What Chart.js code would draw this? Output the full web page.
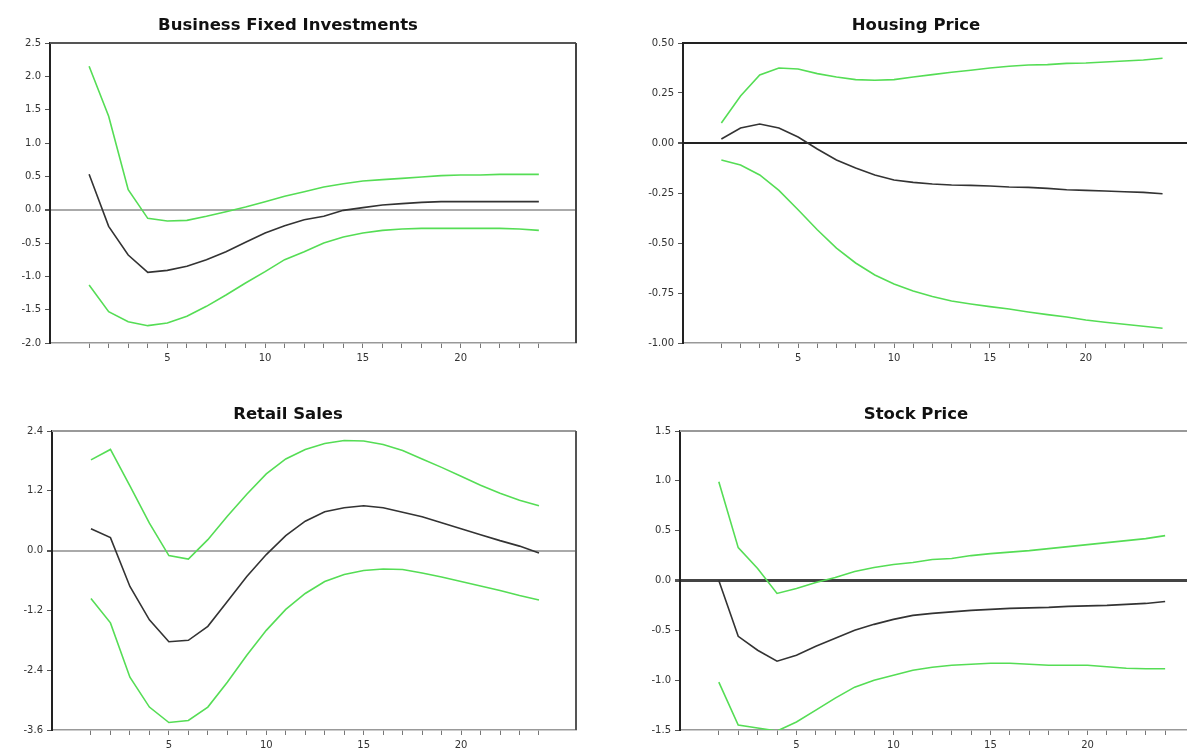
<!DOCTYPE html>
<html>
<head>
<meta charset="utf-8">
<script src="https://cdn.jsdelivr.net/npm/chart.js@4/dist/chart.umd.min.js"></script>
<style>
    html, body { margin: 0; padding: 0; background: #fff; overflow: hidden; width: 1187px; height: 751px; }
    .panel { position: absolute; }
</style>
</head>
<body>
<div class="panel" style="left:0;top:0"><canvas id="c-bfi" width="590" height="370"></canvas></div>
<div class="panel" style="left:633px;top:0"><canvas id="c-house" width="566" height="370"></canvas></div>
<div class="panel" style="left:0;top:385px"><canvas id="c-retail" width="590" height="372"></canvas></div>
<div class="panel" style="left:630px;top:385px"><canvas id="c-stock" width="572" height="372"></canvas></div>
<script>
// Horizon (periods after the shock)
const steps = [1, 2, 3, 4, 5, 6, 7, 8, 9, 10, 11, 12, 13, 14, 15, 16, 17, 18, 19, 20, 21, 22, 23, 24];

// Business Fixed Investments
const bfiMid = [0.53, -0.25, -0.68, -0.94, -0.91, -0.85, -0.75, -0.63, -0.49, -0.35, -0.24, -0.15, -0.10, -0.01, 0.03, 0.07, 0.09, 0.11, 0.12, 0.12, 0.12, 0.12, 0.12, 0.12];
const bfiUp = [2.15, 1.40, 0.30, -0.13, -0.17, -0.16, -0.10, -0.03, 0.04, 0.12, 0.20, 0.27, 0.34, 0.39, 0.43, 0.45, 0.47, 0.49, 0.51, 0.52, 0.52, 0.53, 0.53, 0.53];
const bfiLow = [-1.13, -1.53, -1.68, -1.74, -1.70, -1.60, -1.45, -1.28, -1.10, -0.93, -0.75, -0.63, -0.50, -0.41, -0.35, -0.31, -0.29, -0.28, -0.28, -0.28, -0.28, -0.28, -0.29, -0.31];
const bfiTicks = [-2.0, -1.5, -1.0, -0.5, 0.0, 0.5, 1.0, 1.5, 2.0, 2.5];

// Housing Price
const houseMid = [0.02, 0.075, 0.095, 0.075, 0.03, -0.03, -0.085, -0.125, -0.16, -0.185, -0.197, -0.205, -0.21, -0.212, -0.215, -0.22, -0.222, -0.227, -0.234, -0.237, -0.24, -0.244, -0.247, -0.254];
const houseUp = [0.10, 0.235, 0.34, 0.375, 0.37, 0.347, 0.33, 0.317, 0.314, 0.317, 0.33, 0.342, 0.354, 0.364, 0.375, 0.384, 0.39, 0.392, 0.398, 0.40, 0.405, 0.41, 0.415, 0.424];
const houseLow = [-0.085, -0.11, -0.16, -0.237, -0.334, -0.434, -0.526, -0.60, -0.66, -0.705, -0.74, -0.768, -0.79, -0.805, -0.818, -0.83, -0.845, -0.858, -0.87, -0.885, -0.896, -0.906, -0.916, -0.926];
const houseTicks = [-1.00, -0.75, -0.50, -0.25, 0.00, 0.25, 0.50];

// Retail Sales
const retailMid = [0.44, 0.26, -0.72, -1.39, -1.83, -1.80, -1.52, -1.02, -0.52, -0.08, 0.30, 0.59, 0.78, 0.86, 0.90, 0.86, 0.77, 0.68, 0.56, 0.44, 0.32, 0.20, 0.09, -0.05];
const retailUp = [1.82, 2.03, 1.30, 0.55, -0.10, -0.17, 0.22, 0.69, 1.13, 1.54, 1.84, 2.03, 2.15, 2.21, 2.20, 2.13, 2.01, 1.84, 1.67, 1.49, 1.31, 1.15, 1.01, 0.90];
const retailLow = [-0.96, -1.45, -2.54, -3.14, -3.45, -3.41, -3.14, -2.64, -2.10, -1.60, -1.18, -0.86, -0.62, -0.48, -0.40, -0.37, -0.38, -0.45, -0.53, -0.62, -0.71, -0.80, -0.90, -0.99];
const retailTicks = [-3.6, -2.4, -1.2, 0.0, 1.2, 2.4];

// Stock Price
const stockMid = [0.00, -0.56, -0.70, -0.81, -0.75, -0.66, -0.58, -0.50, -0.44, -0.39, -0.35, -0.33, -0.315, -0.30, -0.29, -0.28, -0.275, -0.27, -0.26, -0.255, -0.25, -0.24, -0.23, -0.21];
const stockUp = [0.99, 0.33, 0.12, -0.13, -0.08, -0.02, 0.03, 0.09, 0.13, 0.16, 0.18, 0.21, 0.22, 0.25, 0.27, 0.285, 0.30, 0.32, 0.34, 0.36, 0.38, 0.40, 0.42, 0.45];
const stockLow = [-1.02, -1.45, -1.48, -1.51, -1.42, -1.30, -1.18, -1.07, -1.00, -0.95, -0.90, -0.87, -0.85, -0.84, -0.83, -0.83, -0.84, -0.85, -0.85, -0.85, -0.865, -0.88, -0.885, -0.885];
const stockTicks = [-1.5, -1.0, -0.5, 0.0, 0.5, 1.0, 1.5];

const GREEN = '#55dd55';
const MID = '#333333';

// Frame: top and right edges of the plot box
const framePlugin = {
    id: 'frame',
    afterDraw(chart, args, opts) {
        const a = chart.chartArea, ctx = chart.ctx;
        ctx.save();
        ctx.lineWidth = 2;
        ctx.strokeStyle = opts.top;
        ctx.beginPath(); ctx.moveTo(a.left, a.top); ctx.lineTo(a.right, a.top); ctx.stroke();
        ctx.strokeStyle = opts.right;
        ctx.beginPath(); ctx.moveTo(a.right, a.top); ctx.lineTo(a.right, a.bottom); ctx.stroke();
        ctx.restore();
    }
};

function pairs(vals) {
    return steps.map((s, i) => ({ x: s, y: vals[i] }));
}

function makePanel(id, title, mid, up, low, yTicks, decimals, st) {
    new Chart(document.getElementById(id), {
        type: 'line',
        data: {
            datasets: [
                { data: pairs(up), borderColor: GREEN, borderWidth: 1.6 },
                { data: pairs(low), borderColor: GREEN, borderWidth: 1.6 },
                { data: pairs(mid), borderColor: MID, borderWidth: 1.6 },
            ]
        },
        plugins: [framePlugin],
        options: {
            responsive: false,
            animation: false,
            events: [],
            layout: { padding: { left: 0, right: st.padRight, top: 0, bottom: 0 } },
            elements: { point: { radius: 0 }, line: { tension: 0 } },
            plugins: {
                legend: { display: false },
                tooltip: { enabled: false },
                title: {
                    display: true, text: title, color: '#111',
                    font: { family: 'DejaVu Sans', size: 16.5, weight: 'bold' },
                    padding: { top: st.titleTop, bottom: st.titleBottom }
                },
                frame: { top: st.frameTop, right: st.frameRight }
            },
            scales: {
                x: {
                    type: 'linear', min: -1, max: 25.9,
                    afterBuildTicks: s => { s.ticks = steps.map(v => ({ value: v })); },
                    afterFit: s => { s.height = 27; },
                    ticks: {
                        autoSkip: false, maxRotation: 0, padding: 4, color: '#333',
                        font: { family: 'DejaVu Sans', size: 10 },
                        callback: v => (v % 5 === 0 ? String(v) : '')
                    },
                    grid: { drawOnChartArea: false, tickLength: 5, tickColor: '#777' },
                    border: { color: '#999', width: 1.5 }
                },
                y: {
                    min: yTicks[0], max: yTicks[yTicks.length - 1],
                    afterBuildTicks: s => { s.ticks = yTicks.map(v => ({ value: v })); },
                    afterFit: s => { s.width = st.yWidth; },
                    ticks: {
                        padding: 4, color: '#333',
                        font: { family: 'DejaVu Sans', size: 10 },
                        callback: v => v.toFixed(decimals)
                    },
                    grid: {
                        tickLength: 5, tickColor: '#555',
                        color: c => (c.tick && c.tick.value === 0 ? st.zeroColor : 'rgba(0,0,0,0)'),
                        lineWidth: c => (c.tick && c.tick.value === 0 ? st.zeroWidth : 1)
                    },
                    border: { color: '#222', width: 2 }
                }
            }
        }
    });
}

makePanel('c-bfi', 'Business Fixed Investments', bfiMid, bfiUp, bfiLow, bfiTicks, 1,
    { padRight: 14, yWidth: 50, titleTop: 15.6, titleBottom: 7.6, frameTop: '#555', frameRight: '#444', zeroColor: '#aaa', zeroWidth: 2 });
makePanel('c-house', 'Housing Price', houseMid, houseUp, houseLow, houseTicks, 2,
    { padRight: 0, yWidth: 50, titleTop: 15.6, titleBottom: 7.6, frameTop: '#222', frameRight: '#222', zeroColor: '#222', zeroWidth: 2 });
makePanel('c-retail', 'Retail Sales', retailMid, retailUp, retailLow, retailTicks, 1,
    { padRight: 14, yWidth: 52, titleTop: 19.6, titleBottom: 6.6, frameTop: '#999', frameRight: '#555', zeroColor: '#aaa', zeroWidth: 2 });
makePanel('c-stock', 'Stock Price', stockMid, stockUp, stockLow, stockTicks, 1,
    { padRight: 0, yWidth: 50, titleTop: 19.6, titleBottom: 6.6, frameTop: '#999', frameRight: '#999', zeroColor: '#444', zeroWidth: 3 });
</script>
</body>
</html>
